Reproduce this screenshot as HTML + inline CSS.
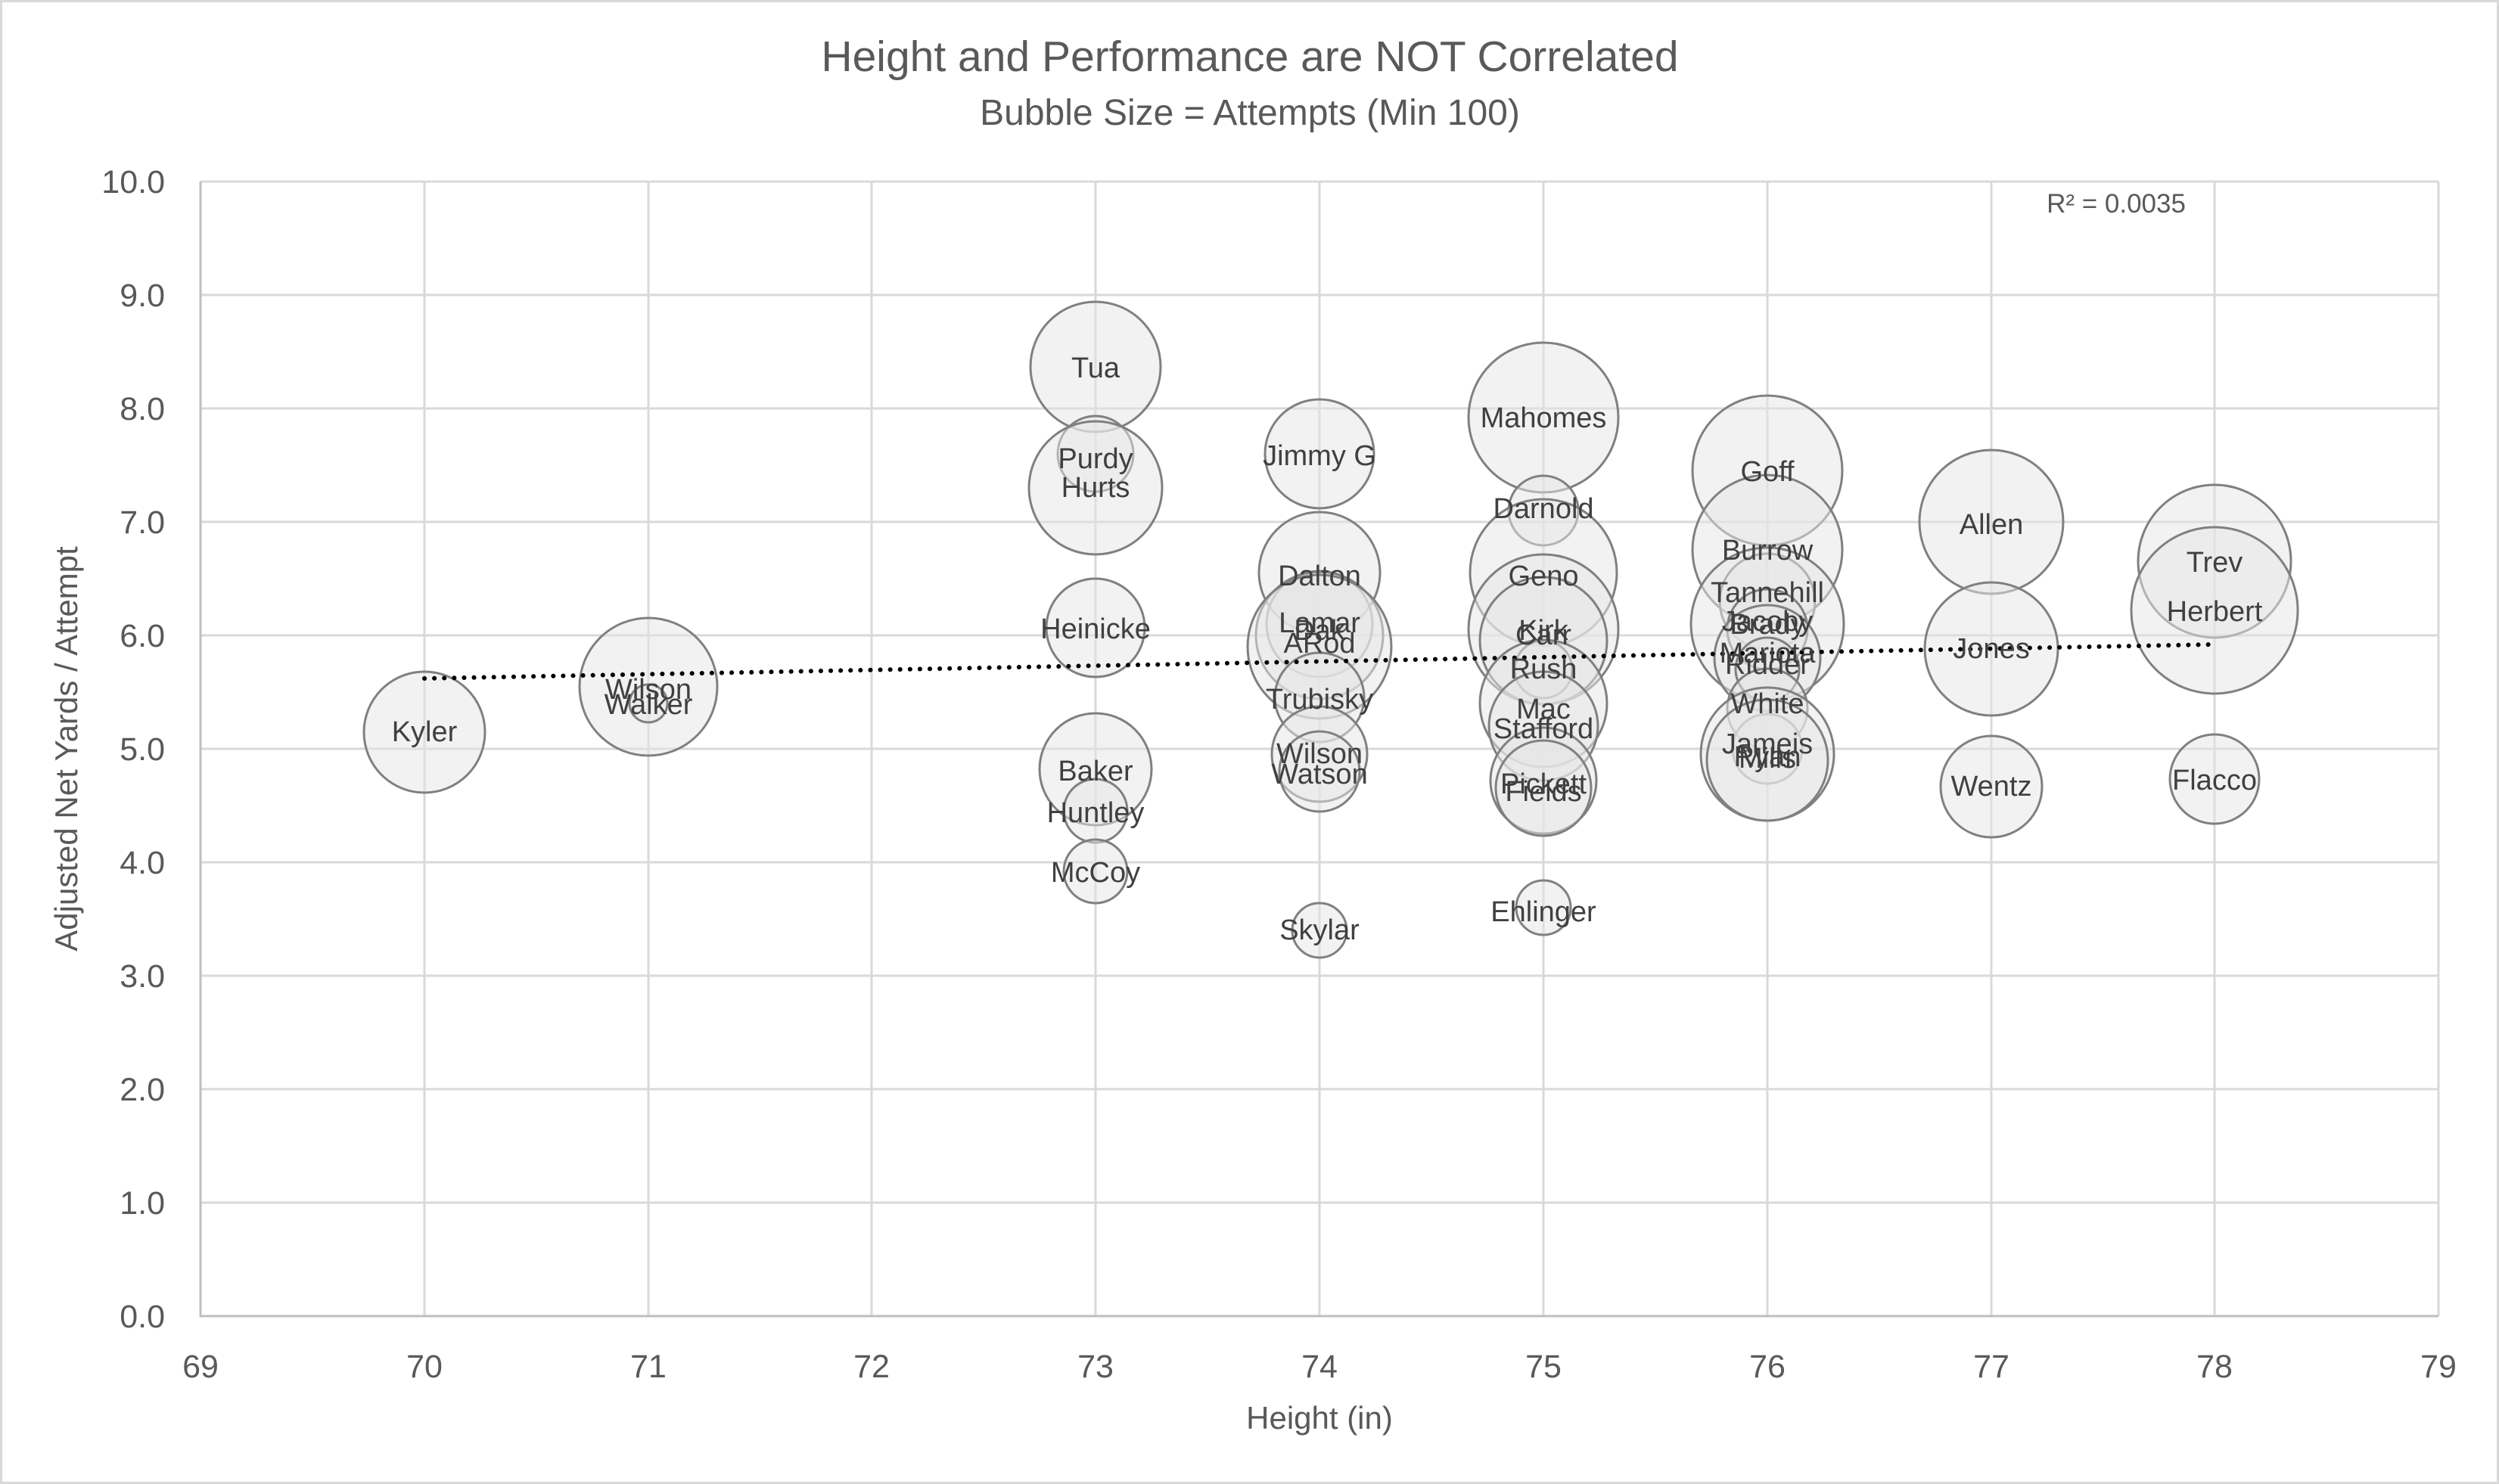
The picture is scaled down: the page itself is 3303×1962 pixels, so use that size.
<!DOCTYPE html>
<html><head><meta charset="utf-8"><style>html,body{margin:0;padding:0;background:#fff}svg{display:block}</style></head>
<body>
<svg width="3303" height="1962" viewBox="0 0 3303 1962" xmlns="http://www.w3.org/2000/svg" font-family="Liberation Sans, sans-serif">
<rect x="1.5" y="1.5" width="3300" height="1959" fill="#fff" stroke="#d9d9d9" stroke-width="3"/>
<text x="1652" y="94" text-anchor="middle" font-size="57" fill="#595959">Height and Performance are NOT Correlated</text>
<text x="1652" y="165" text-anchor="middle" font-size="48" fill="#595959">Bubble Size = Attempts (Min 100)</text>
<g stroke="#d9d9d9" stroke-width="3">
<line x1="265" y1="240" x2="3223" y2="240"/><line x1="265" y1="390" x2="3223" y2="390"/><line x1="265" y1="540" x2="3223" y2="540"/><line x1="265" y1="690" x2="3223" y2="690"/><line x1="265" y1="840" x2="3223" y2="840"/><line x1="265" y1="990" x2="3223" y2="990"/><line x1="265" y1="1140" x2="3223" y2="1140"/><line x1="265" y1="1290" x2="3223" y2="1290"/><line x1="265" y1="1440" x2="3223" y2="1440"/><line x1="265" y1="1590" x2="3223" y2="1590"/>
<line x1="561" y1="240" x2="561" y2="1740"/><line x1="857" y1="240" x2="857" y2="1740"/><line x1="1152" y1="240" x2="1152" y2="1740"/><line x1="1448" y1="240" x2="1448" y2="1740"/><line x1="1744" y1="240" x2="1744" y2="1740"/><line x1="2040" y1="240" x2="2040" y2="1740"/><line x1="2336" y1="240" x2="2336" y2="1740"/><line x1="2632" y1="240" x2="2632" y2="1740"/><line x1="2927" y1="240" x2="2927" y2="1740"/><line x1="3223" y1="240" x2="3223" y2="1740"/>
</g>
<g stroke="#bfbfbf" stroke-width="3"><line x1="265" y1="240" x2="265" y2="1741"/><line x1="264" y1="1740" x2="3223" y2="1740"/></g>
<g font-size="43" fill="#595959" text-anchor="end">
<text x="218" y="255">10.0</text><text x="218" y="405">9.0</text><text x="218" y="555">8.0</text><text x="218" y="705">7.0</text><text x="218" y="855">6.0</text><text x="218" y="1005">5.0</text><text x="218" y="1155">4.0</text><text x="218" y="1305">3.0</text><text x="218" y="1455">2.0</text><text x="218" y="1605">1.0</text><text x="218" y="1755">0.0</text>
</g>
<g font-size="43" fill="#595959" text-anchor="middle">
<text x="265" y="1821">69</text><text x="561" y="1821">70</text><text x="857" y="1821">71</text><text x="1152" y="1821">72</text><text x="1448" y="1821">73</text><text x="1744" y="1821">74</text><text x="2040" y="1821">75</text><text x="2336" y="1821">76</text><text x="2632" y="1821">77</text><text x="2927" y="1821">78</text><text x="3223" y="1821">79</text>
</g>
<text x="1744" y="1889" text-anchor="middle" font-size="42" fill="#595959">Height (in)</text>
<text transform="translate(102,990) rotate(-90)" text-anchor="middle" font-size="42" fill="#595959">Adjusted Net Yards / Attempt</text>
<text x="2797" y="281" text-anchor="middle" font-size="35" fill="#595959">R² = 0.0035</text>
<g fill="#e6e6e6" fill-opacity="0.5" stroke="#808080" stroke-width="3">
<circle cx="561" cy="968" r="80"/>
<circle cx="857" cy="908" r="91"/><circle cx="857" cy="930" r="25"/>
<circle cx="1448" cy="485" r="86"/><circle cx="1448" cy="600" r="50"/><circle cx="1448" cy="645" r="88"/><circle cx="1448" cy="830" r="65"/><circle cx="1448" cy="1017" r="74"/><circle cx="1448" cy="1072" r="42"/><circle cx="1448" cy="1152" r="42"/>
<circle cx="1744" cy="600" r="72"/><circle cx="1744" cy="757" r="80"/><circle cx="1744" cy="825" r="70"/><circle cx="1744" cy="840" r="84"/><circle cx="1744" cy="855" r="95"/><circle cx="1744" cy="922" r="59"/><circle cx="1744" cy="997" r="63"/><circle cx="1744" cy="1020" r="53"/><circle cx="1744" cy="1230" r="36"/>
<circle cx="2040" cy="552" r="99"/><circle cx="2040" cy="675" r="46"/><circle cx="2040" cy="757" r="97"/><circle cx="2040" cy="832" r="99"/><circle cx="2040" cy="847" r="84"/><circle cx="2040" cy="885" r="38"/><circle cx="2040" cy="930" r="84"/><circle cx="2040" cy="960" r="72"/><circle cx="2040" cy="1032" r="70"/><circle cx="2040" cy="1042" r="63"/><circle cx="2040" cy="1200" r="36"/>
<circle cx="2336" cy="622" r="99"/><circle cx="2336" cy="727" r="99"/><circle cx="2336" cy="795" r="63"/><circle cx="2336" cy="825" r="101"/><circle cx="2336" cy="832" r="53"/><circle cx="2336" cy="870" r="70"/><circle cx="2336" cy="885" r="42"/><circle cx="2336" cy="937" r="53"/><circle cx="2336" cy="990" r="46"/><circle cx="2336" cy="997" r="88"/><circle cx="2336" cy="1005" r="80"/>
<circle cx="2632" cy="690" r="95"/><circle cx="2632" cy="858" r="88"/><circle cx="2632" cy="1040" r="67"/>
<circle cx="2927" cy="742" r="101"/><circle cx="2927" cy="807" r="110"/><circle cx="2927" cy="1030" r="59"/>
</g>
<line x1="561" y1="897" x2="2927" y2="852" stroke="#000" stroke-width="6" stroke-dasharray="0.1 13" stroke-linecap="round"/>
<g font-size="38" fill="#404040" text-anchor="middle" dominant-baseline="central">
<text x="561" y="968">Kyler</text><text x="857" y="912">Wilson</text><text x="857" y="932">Walker</text>
<text x="1448" y="487">Tua</text><text x="1448" y="607">Purdy</text><text x="1448" y="645">Hurts</text><text x="1448" y="832">Heinicke</text><text x="1448" y="1020">Baker</text><text x="1448" y="1075">Huntley</text><text x="1448" y="1154">McCoy</text>
<text x="1744" y="603">Jimmy G</text><text x="1744" y="762">Dalton</text><text x="1744" y="824">Lamar</text><text x="1744" y="834">Dak</text><text x="1744" y="851">ARod</text><text x="1744" y="925">Trubisky</text><text x="1744" y="997">Wilson</text><text x="1744" y="1024">Watson</text><text x="1744" y="1230">Skylar</text>
<text x="2040" y="553">Mahomes</text><text x="2040" y="673">Darnold</text><text x="2040" y="762">Geno</text><text x="2040" y="834">Kirk</text><text x="2040" y="840">Carr</text><text x="2040" y="885">Rush</text><text x="2040" y="938">Mac</text><text x="2040" y="964">Stafford</text><text x="2040" y="1037">Pickett</text><text x="2040" y="1047">Fields</text><text x="2040" y="1206">Ehlinger</text>
<text x="2336" y="624">Goff</text><text x="2336" y="728">Burrow</text><text x="2336" y="784">Tannehill</text><text x="2336" y="822">Jacoby</text><text x="2336" y="826">Brady</text><text x="2336" y="864">Mariota</text><text x="2336" y="879">Ridder</text><text x="2336" y="931">White</text><text x="2336" y="984">Jameis</text><text x="2336" y="1001">Ryan</text><text x="2336" y="1003">Mills</text>
<text x="2632" y="694">Allen</text><text x="2632" y="858">Jones</text><text x="2632" y="1040">Wentz</text>
<text x="2927" y="744">Trev</text><text x="2927" y="809">Herbert</text><text x="2927" y="1032">Flacco</text>
</g>
</svg>
</body></html>
